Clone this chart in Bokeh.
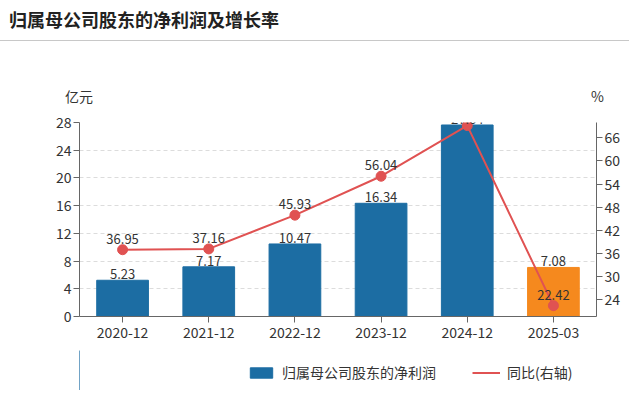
from bokeh.plotting import figure
from bokeh.models import (Range1d, LinearAxis, FactorRange, ColumnDataSource, Legend, LegendItem,
                          LabelSet, FixedTicker, Div)
from bokeh.layouts import column
from bokeh.core.properties import value
from bokeh.embed import file_html
from bokeh.resources import INLINE

title_text = "归属母公司股东的净利润及增长率"
categories = ["2020-12", "2021-12", "2022-12", "2023-12", "2024-12", "2025-03"]
profit = [5.23, 7.17, 10.47, 16.34, 27.64, 7.08]
growth = [36.95, 37.16, 45.93, 56.04, 69.2, 22.42]
left_ticks = [0, 4, 8, 12, 16, 20, 24, 28]
right_ticks = [24, 30, 36, 42, 48, 54, 60, 66]
left_unit = "亿元"
right_unit = "%"
bar_name = "归属母公司股东的净利润"
line_name = "同比(右轴)"

FONT = "Noto Sans CJK SC"
BLUE = "#1c6da3"
ORANGE = "#f5891e"
RED = "#e05252"
TXT = "#333333"
AXC = "#666666"

bar_colors = [BLUE] * (len(categories) - 1) + [ORANGE]
bar_src = ColumnDataSource(dict(x=categories, top=profit, color=bar_colors,
                                lab=[f"{v:.2f}" for v in profit]))
line_src = ColumnDataSource(dict(x=categories, y=growth))
show_idx = [0, 1, 2, 3, 5]
lab_src = ColumnDataSource(dict(x=[categories[i] for i in show_idx],
                                y=[growth[i] for i in show_idx],
                                lab=[f"{growth[i]:.2f}" for i in show_idx]))

W = 624
head_html = (
    f'<div style="position:relative;width:{W}px;height:100px;font-family:\'{FONT}\';color:{TXT};">'
    f'<div style="position:absolute;left:-6px;top:0;width:{W + 6}px;height:36px;'
    f'border-bottom:1px solid #c8c8c8;"></div>'
    f'<span style="position:absolute;left:4px;top:0px;font-size:18px;font-weight:bold;'
    f'line-height:28px;color:#222222;white-space:nowrap;">{title_text}</span>'
    f'<span style="position:absolute;left:60px;top:81px;font-size:14px;line-height:20px;'
    f'white-space:nowrap;">{left_unit}</span>'
    f'<span style="position:absolute;left:586px;top:81px;font-size:14px;line-height:20px;'
    f'white-space:nowrap;">{right_unit}</span>'
    f'</div>'
)
head = Div(text=head_html, width=W, height=100)

p = figure(width=W, height=240, x_range=FactorRange(*categories, range_padding=0),
           y_range=Range1d(0, 28), output_backend="svg", toolbar_location=None,
           min_border_left=79, min_border_right=28, min_border_top=12, min_border_bottom=34)
p.extra_y_ranges = {"pct": Range1d(19.6, 70.0)}
p.outline_line_color = None
p.x_range.factor_padding = 0

p.xgrid.grid_line_color = None
p.ygrid.grid_line_color = "#dcdcdc"
p.ygrid.grid_line_dash = "4 3"
p.ygrid.ticker = FixedTicker(ticks=left_ticks)
p.yaxis[0].ticker = FixedTicker(ticks=left_ticks)

def style_axis(ax):
    ax.axis_line_color = AXC
    ax.major_tick_line_color = AXC
    ax.minor_tick_line_color = None
    ax.major_tick_in = 0
    ax.major_tick_out = 6
    ax.major_label_text_font = FONT
    ax.major_label_text_font_size = "14px"
    ax.major_label_text_color = TXT

style_axis(p.yaxis[0])
p.yaxis.major_label_standoff = 2
style_axis(p.xaxis[0])
p.xaxis.major_label_standoff = 4

ry = LinearAxis(y_range_name="pct", ticker=FixedTicker(ticks=right_ticks))
style_axis(ry)
ry.major_label_standoff = 2
p.add_layout(ry, "right")

bars = p.vbar(x="x", top="top", width=0.6, color="color", source=bar_src)
ln = p.line(x="x", y="y", source=line_src, y_range_name="pct", line_color=RED, line_width=2)
p.scatter(x="x", y="y", source=line_src, y_range_name="pct", size=10, color=RED)

p.add_layout(LabelSet(x="x", y="top", text="lab", source=bar_src, text_align="center",
                      text_baseline="bottom", y_offset=1, text_font=value(FONT),
                      text_font_size="13px", text_color=TXT))
p.add_layout(LabelSet(x="x", y="y", text="lab", source=lab_src, y_range_name="pct",
                      text_align="center", text_baseline="bottom", y_offset=6,
                      text_font=value(FONT), text_font_size="13px", text_color=TXT))

# legend strip (legend swatches use off-screen placeholder renderers)
q = figure(width=W, height=40, x_range=Range1d(0, 1), y_range=Range1d(0, 1),
           output_backend="svg", toolbar_location=None,
           x_axis_location=None, y_axis_location=None,
           min_border_left=0, min_border_right=0, min_border_top=0, min_border_bottom=0)
q.grid.visible = False
q.outline_line_color = None
lg_bar = q.vbar(x=[-5], top=[1], width=0.6, color=BLUE)
lg_line = q.line(x=[-5, -4], y=[0.5, 0.5], line_color=RED, line_width=2)
legend = Legend(items=[LegendItem(label=bar_name, renderers=[lg_bar]),
                       LegendItem(label=line_name, renderers=[lg_line])],
                orientation="horizontal", location=(168, 8),
                label_text_font=FONT, label_text_font_size="14px", label_text_color=TXT,
                glyph_width=28, glyph_height=13, label_height=20, label_standoff=7,
                spacing=36, border_line_color=None,
                background_fill_alpha=0, margin=0, padding=0)
q.add_layout(legend, "center")

layout = column(head, p, q, spacing=0)
open("out.html", "w").write(file_html(layout, INLINE))
